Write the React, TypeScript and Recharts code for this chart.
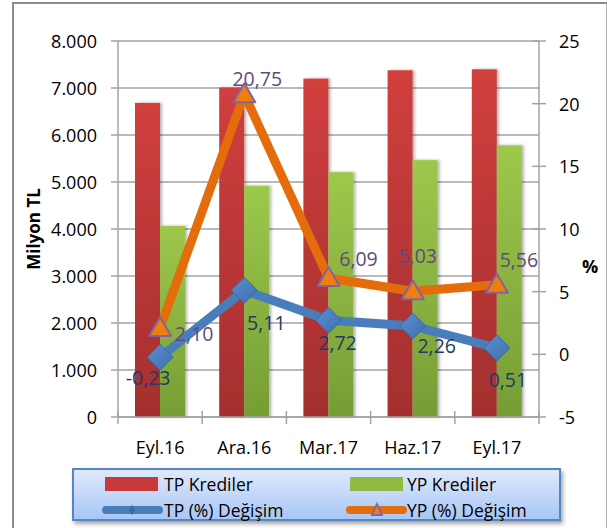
import React from 'react';
import {
  Bar,
  CartesianGrid,
  ComposedChart,
  Label,
  LabelList,
  Line,
  XAxis,
  YAxis,
} from 'recharts';

const categories = ['Eyl.16', 'Ara.16', 'Mar.17', 'Haz.17', 'Eyl.17'];
const tpKrediler = [6683, 7010, 7200, 7377, 7398];
const ypKrediler = [4063, 4920, 5210, 5465, 5780];
const tpDegisim = [-0.23, 5.11, 2.72, 2.26, 0.51];
const ypDegisim = [2.1, 20.75, 6.09, 5.03, 5.56];
const leftTicks = [0, 1000, 2000, 3000, 4000, 5000, 6000, 7000, 8000];
const rightTicks = [-5, 0, 5, 10, 15, 20, 25];

// label offsets from each point
const tpLabelOffsets = [
  [-12, 20],
  [22, 32],
  [9, 22],
  [24, 19],
  [11, 32],
];
const ypLabelOffsets = [
  [34, 5],
  [13, -16],
  [30, -20],
  [5, -36],
  [22, -25],
];

const data = categories.map((c, i) => ({
  name: c,
  tp: tpKrediler[i],
  yp: ypKrediler[i],
  tpPct: tpDegisim[i],
  ypPct: ypDegisim[i],
}));

const FONT = '"Open Sans", sans-serif';
const PLOT_LEFT = 118;
const PLOT_RIGHT = 539;
const PLOT_BOTTOM = 417;
const BAND = (PLOT_RIGHT - PLOT_LEFT) / categories.length;
const GRID = '#a3a3a3';

const fmtThousands = (v: number) =>
  v === 0 ? '0' : v.toString().replace(/\B(?=(\d{3})+(?!\d))/g, '.');
const fmtPct = (v: number) => v.toFixed(2).replace('.', ',');

function XTick(props: any) {
  const { x, payload } = props;
  const i = payload.index;
  const left = x - BAND / 2;
  return (
    <g>
      <line x1={left} x2={left} y1={PLOT_BOTTOM - 6} y2={PLOT_BOTTOM + 7} stroke={GRID} strokeWidth={1.5} />
      {i === categories.length - 1 && (
        <line x1={x + BAND / 2} x2={x + BAND / 2} y1={PLOT_BOTTOM - 6} y2={PLOT_BOTTOM + 7} stroke={GRID} strokeWidth={1.5} />
      )}
      <text x={x} y={PLOT_BOTTOM + 30} textAnchor="middle" dominantBaseline="central" fontSize={18} fontFamily={FONT} fill="#000">
        {payload.value}
      </text>
    </g>
  );
}

function RightTick(props: any) {
  const { y, payload } = props;
  return (
    <g>
      <line x1={PLOT_RIGHT - 7} x2={PLOT_RIGHT + 7} y1={y} y2={y} stroke={GRID} strokeWidth={1.5} />
      <text x={PLOT_RIGHT + 20} y={y} textAnchor="start" dominantBaseline="central" fontSize={18} fontFamily={FONT} fill="#000">
        {payload.value}
      </text>
    </g>
  );
}

function LeftTick(props: any) {
  const { y, payload } = props;
  return (
    <text x={97} y={y} textAnchor="end" dominantBaseline="central" fontSize={18} fontFamily={FONT} fill="#000">
      {fmtThousands(payload.value)}
    </text>
  );
}

function Diamond(props: any) {
  const { cx, cy, index } = props;
  if (cx == null || cy == null) return <g key={index} />;
  const r = 13;
  return (
    <path
      key={index}
      d={`M${cx},${cy - r} L${cx + r},${cy} L${cx},${cy + r} L${cx - r},${cy} Z`}
      fill="url(#diamondFill)"
      stroke="#3b6aa5"
      strokeWidth={1}
    />
  );
}

function Triangle(props: any) {
  const { cx, cy, index } = props;
  if (cx == null || cy == null) return <g key={index} />;
  return (
    <path
      key={index}
      d={`M${cx},${cy - 11} L${cx + 11},${cy + 8} L${cx - 11},${cy + 8} Z`}
      fill="#f07d0c"
      stroke="#8064a2"
      strokeWidth={2}
      strokeLinejoin="round"
    />
  );
}

function makePctLabel(offsets: number[][], color: string) {
  return function PctLabel(props: any) {
    const { index, value } = props;
    const vb = props.viewBox || {};
    const x = props.x ?? vb.x;
    const y = props.y ?? vb.y;
    if (x == null || y == null) return null;
    const [dx, dy] = offsets[index] || [0, 0];
    return (
      <text x={x + dx} y={y + dy} textAnchor="middle" dominantBaseline="central" fontSize={19.5} fontFamily={FONT} fill={color}>
        {fmtPct(Number(value))}
      </text>
    );
  };
}

function BarShape(fill: string) {
  return (props: any) => {
    const { x, y, width, height } = props;
    return <rect x={x} y={y} width={width} height={height} fill={fill} filter="url(#barShadow)" />;
  };
}

function LegendBox() {
  const row1 = 14;
  const row2 = 40;
  return (
    <div
      style={{
        position: 'absolute',
        left: 72,
        top: 468,
        width: 485,
        height: 49,
        border: '2px solid #5585c2',
        background: 'linear-gradient(#dee9fc, #a9c6f5)',
        boxShadow: '2px 3px 4px rgba(0,0,0,0.35)',
      }}
    >
      <svg width={485} height={49} style={{ position: 'absolute', left: 0, top: 0, overflow: 'visible' }}>
        <rect x={31} y={row1 - 7} width={53} height={14} fill="#c73a3a" />
        <text x={90} y={row1} dominantBaseline="central" fontSize={17.5} fontFamily={FONT}>TP Krediler</text>
        <rect x={276} y={row1 - 7} width={53} height={14} fill="#8fbb45" />
        <text x={333} y={row1} dominantBaseline="central" fontSize={17.5} fontFamily={FONT}>YP Krediler</text>
        <line x1={32} x2={85} y1={row2} y2={row2} stroke="#4a7ebb" strokeWidth={8} strokeLinecap="round" />
        <path d={`M58,${row2 - 5} L61,${row2} L58,${row2 + 5} L55,${row2} Z`} fill="#3b6aa5" />
        <text x={90} y={row2} dominantBaseline="central" fontSize={17.5} fontFamily={FONT}>TP (%) Değişim</text>
        <line x1={276} x2={329} y1={row2} y2={row2} stroke="#e46c0a" strokeWidth={8} strokeLinecap="round" />
        <path d={`M303,${row2 - 6} L308,${row2 + 5} L298,${row2 + 5} Z`} fill="#f07d0c" stroke="#8064a2" strokeWidth={1.8} />
        <text x={333} y={row2} dominantBaseline="central" fontSize={17.5} fontFamily={FONT}>YP (%) Değişim</text>
      </svg>
    </div>
  );
}

export default function App() {
  return (
    <div style={{ position: 'absolute', left: 0, top: 0, width: 607, height: 528, background: '#fff', fontFamily: FONT, overflow: 'hidden' }}>
      <div
        style={{
          position: 'absolute',
          left: 12,
          top: 2,
          width: 592,
          height: 540,
          borderLeft: '2px solid #8c8c8c',
          borderTop: '2px solid #8c8c8c',
          borderRight: '2px solid #b0b0b0',
        }}
      />
      <div style={{ position: 'absolute', left: 0, top: 0 }}>
        <ComposedChart
          width={607}
          height={528}
          data={data}
          margin={{ top: 41, right: 0, left: 0, bottom: 81 }}
          barGap={0}
        >
          <defs>
            <linearGradient id="redFill" x1="0" y1="0" x2="0" y2="1">
              <stop offset="0%" stopColor="#d13f3e" />
              <stop offset="100%" stopColor="#a32f2e" />
            </linearGradient>
            <linearGradient id="greenFill" x1="0" y1="0" x2="0" y2="1">
              <stop offset="0%" stopColor="#9dc84b" />
              <stop offset="100%" stopColor="#769d35" />
            </linearGradient>
            <linearGradient id="diamondFill" x1="0" y1="0" x2="1" y2="1">
              <stop offset="0%" stopColor="#5b8fd0" />
              <stop offset="100%" stopColor="#3d6fae" />
            </linearGradient>
            <filter id="barShadow" x="-20%" y="-5%" width="150%" height="110%">
              <feDropShadow dx="2" dy="0" stdDeviation="1.5" floodColor="#000" floodOpacity="0.3" />
            </filter>
          </defs>
          <CartesianGrid horizontal vertical={false} stroke={GRID} strokeWidth={1.5} yAxisId="left" />
          <XAxis
            dataKey="name"
            height={30}
            tick={<XTick />}
            tickLine={false}
            axisLine={{ stroke: GRID, strokeWidth: 1.5 }}
            interval={0}
          />
          <YAxis
            yAxisId="left"
            orientation="left"
            width={118}
            domain={[0, 8000]}
            ticks={leftTicks}
            tick={<LeftTick />}
            tickSize={7}
            tickLine={{ stroke: GRID, strokeWidth: 1.5 }}
            axisLine={{ stroke: GRID, strokeWidth: 1.5 }}
            interval={0}
          >
            <Label
              content={() => (
                <text
                  x={33}
                  y={229}
                  transform="rotate(-90 33 229)"
                  textAnchor="middle"
                  dominantBaseline="central"
                  fontSize={17}
                  fontWeight="bold"
                  fontFamily={FONT}
                  fill="#000"
                >
                  Milyon TL
                </text>
              )}
            />
          </YAxis>
          <YAxis
            yAxisId="right"
            orientation="right"
            width={68}
            domain={[-5, 25]}
            ticks={rightTicks}
            tick={<RightTick />}
            tickLine={false}
            axisLine={{ stroke: GRID, strokeWidth: 1.5 }}
            interval={0}
          >
            <Label
              content={() => (
                <text x={590} y={266} textAnchor="middle" dominantBaseline="central" fontSize={18} fontWeight="bold" fontFamily={FONT} fill="#000">
                  %
                </text>
              )}
            />
          </YAxis>
          <Bar yAxisId="left" dataKey="tp" name="TP Krediler" barSize={25} shape={BarShape('url(#redFill)')} isAnimationActive={false} />
          <Bar yAxisId="left" dataKey="yp" name="YP Krediler" barSize={25} shape={BarShape('url(#greenFill)')} isAnimationActive={false} />
          <Line
            yAxisId="right"
            dataKey="tpPct"
            name="TP (%) Değişim"
            stroke="#4a7ebb"
            strokeWidth={9}
            strokeLinejoin="round"
            dot={(p: any) => <Diamond {...p} key={p.index} />}
            activeDot={false}
            isAnimationActive={false}
          >
            <LabelList dataKey="tpPct" content={makePctLabel(tpLabelOffsets, '#1f3b67')} />
          </Line>
          <Line
            yAxisId="right"
            dataKey="ypPct"
            name="YP (%) Değişim"
            stroke="#e46c0a"
            strokeWidth={9}
            strokeLinejoin="round"
            dot={(p: any) => <Triangle {...p} key={p.index} />}
            activeDot={false}
            isAnimationActive={false}
          >
            <LabelList dataKey="ypPct" content={makePctLabel(ypLabelOffsets, '#604a7b')} />
          </Line>
        </ComposedChart>
      </div>
      <LegendBox />
    </div>
  );
}
